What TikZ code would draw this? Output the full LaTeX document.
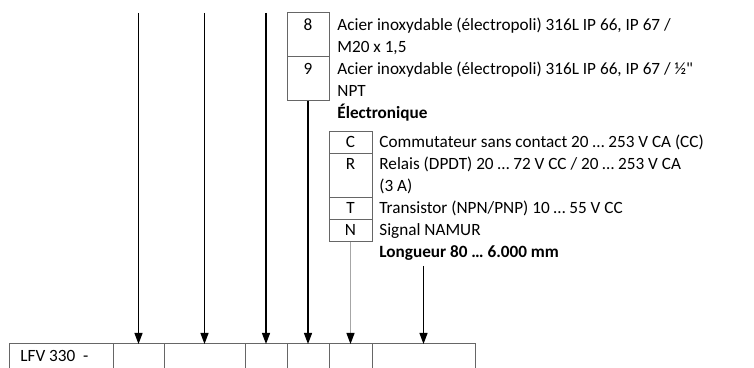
\documentclass[tikz,border=0pt]{standalone}
\usepackage{fontspec}
\setmainfont{Carlito}[Ligatures=TeXOff]
\usetikzlibrary{arrows.meta,positioning}

\begin{document}
\begin{tikzpicture}[x=0.5pt,y=-0.5pt,inner sep=0pt,
    every node/.style={font=\fontsize{8.6}{11}\selectfont},
    cell/.style={draw=black!60,line width=0.5pt,outer sep=0pt,anchor=north west,minimum width=#1},
    keyrow/.style={cell=#1,minimum height=11pt},
    keyrow2/.style={cell=#1,minimum height=22pt},
    desc/.style={anchor=base west,align=left},
    key/.style={anchor=base},
    head/.style={anchor=base west,font=\fontsize{8.6}{11}\selectfont\bfseries},
    arr/.style={line width=0.6pt,-{Triangle[width=4pt,length=5.5pt]}}]
\useasboundingbox (0,0) rectangle (754,368);
\clip (0,0) rectangle (754,368);
% code cells
\node[cell=52pt,minimum height=20pt] (lfv) at (9,344) {};
\node[cell=25.5pt,minimum height=20pt,right=0pt of lfv] (c1) {};
\node[cell=40.5pt,minimum height=20pt,right=0pt of c1] (c2) {};
\node[cell=21pt,minimum height=20pt,right=0pt of c2] (c3) {};
\node[cell=21pt,minimum height=20pt,right=0pt of c3] (c4) {};
\node[cell=21.5pt,minimum height=20pt,right=0pt of c4] (c5) {};
\node[cell=51.5pt,minimum height=20pt,right=0pt of c5] (c6) {};
\node[anchor=base west] (lfvt) at (20,361) {LFV 330\ \ -};
% housing
\node[keyrow2=21pt] (k8) at (287,13) {};
\node[keyrow2=21pt,below=0pt of k8] (k9) {};
\node[key] (n8) at (308,30.5) {8};
\node[key] (n9) at (308,74.5) {9};
\node[desc] (d8) at (337,52.5) {Acier inoxydable (électropoli) 316L IP 66, IP 67 /\\M20 x 1,5};
\node[desc] (d9) at (337,96.5) {Acier inoxydable (électropoli) 316L IP 66, IP 67 / ½"\\NPT};
% electronics
\node[head] (elec) at (337,118.5) {Électronique};
\node[keyrow=21.5pt] (kc) at (329,132) {};
\node[keyrow2=21.5pt,below=0pt of kc] (kr) {};
\node[keyrow=21.5pt,below=0pt of kr] (kt) {};
\node[keyrow=21.5pt,below=0pt of kt] (kn) {};
\node[key] (nc) at (350.5,147.5) {C};
\node[key] (nr) at (350.5,169.5) {R};
\node[key] (nt) at (350.5,213.5) {T};
\node[key] (nn) at (350.5,235.5) {N};
\node[desc] (dc) at (379,147.5) {Commutateur sans contact 20 … 253 V CA (CC)};
\node[desc] (dr) at (379,191.5) {Relais (DPDT) 20 … 72 V CC / 20 … 253 V CA\\(3 A)};
\node[desc] (dt) at (379,213.5) {Transistor (NPN/PNP) 10 … 55 V CC};
\node[desc] (dn) at (379,235.5) {Signal NAMUR};
\node[head] (len) at (379,257.5) {Longueur 80 … 6.000 mm};
% arrows
\draw[arr] (c1.north |- k8.north) -- (c1.north);
\draw[arr] (c2.north |- k8.north) -- (c2.north);
\draw[arr] (c3.north |- k8.north) -- (c3.north);
\draw[arr] (k9.south) -- (c4.north);
\draw[arr,draw=black!35,-{Triangle[width=4pt,length=5.5pt,color=black]}] (kn.south) -- (c5.north);
\draw[arr] ([yshift=-2.5pt]c6.north |- len.south) -- (c6.north);
\end{tikzpicture}
\end{document}
